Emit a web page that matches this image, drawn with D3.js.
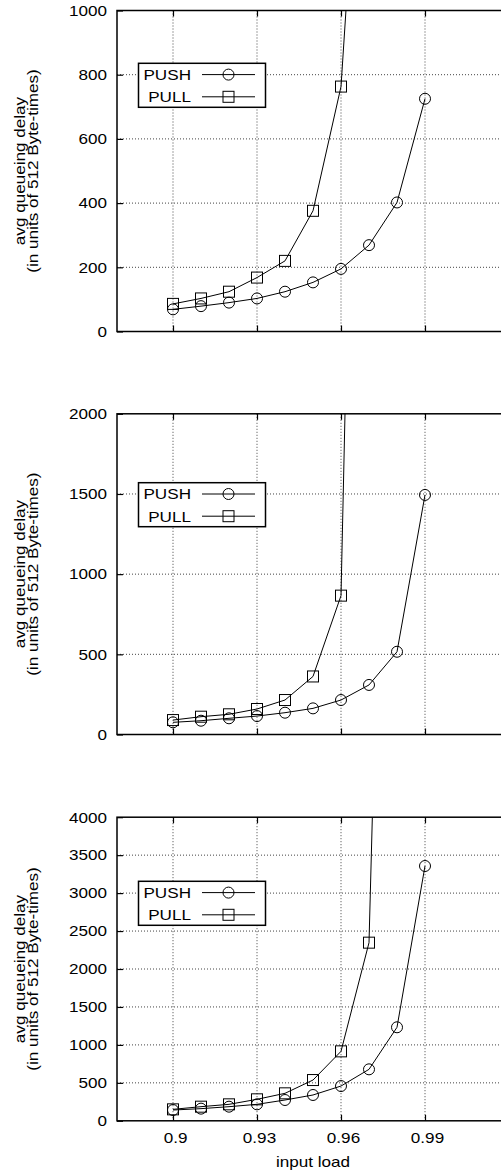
<!DOCTYPE html>
<html>
<head>
<meta charset="utf-8">
<script src="https://cdn.jsdelivr.net/npm/d3@7"></script>
<style>
  body { margin: 0; background: #fff; }
  text { font-family: "Liberation Sans", Arial, sans-serif; font-size: 15px; fill: #000; }
</style>
</head>
<body>
<div id="chart"></div>
<script>
// input load values (x)
var loads = [0.9, 0.91, 0.92, 0.93, 0.94, 0.95, 0.96, 0.97, 0.98, 0.99];
var xTicks = [0.9, 0.93, 0.96, 0.99];

// avg queueing delay
var pushTop = [69, 79, 90, 103, 124, 153, 195, 269, 402, 725];
var pullTop = [86, 103, 124, 168, 220, 376, 763, 2100];
var pushMid = [76, 86, 101, 115, 136, 163, 215, 309, 516, 1494];
var pullMid = [90, 111, 126, 159, 215, 362, 866, 8800];
var pushBot = [142, 160, 186, 217, 274, 340, 458, 678, 1232, 3357];
var pullBot = [151, 186, 217, 283, 362, 537, 915, 2347, 16200];

var yTicksTop = [0, 200, 400, 600, 800, 1000];
var yTicksMid = [0, 500, 1000, 1500, 2000];
var yTicksBot = [0, 500, 1000, 1500, 2000, 2500, 3000, 3500, 4000];

var seriesNames = ["PUSH", "PULL"];

var width = 501, height = 1176,
    left = 117, right = 509;
var stretchK = 1.14;

var panels = [
  { top: 10.5, bottom: 331.5, max: 1000, ticks: yTicksTop, push: pushTop, pull: pullTop, legend: 63.3, labels: false },
  { top: 413.8, bottom: 734.5, max: 2000, ticks: yTicksMid, push: pushMid, pull: pullMid, legend: 482.7, labels: false },
  { top: 817.2, bottom: 1120.8, max: 4000, ticks: yTicksBot, push: pushBot, pull: pullBot, legend: 881.3, labels: true }
];

var svg = d3.select('#chart').append('svg')
  .attr('width', width)
  .attr('height', height);

var x = d3.scaleLinear().domain([0.88, 1.02]).range([left, right]);

function stretch(sel) {
  sel.each(function() {
    var l = this.getComputedTextLength();
    d3.select(this).attr('textLength', l * stretchK).attr('lengthAdjust', 'spacingAndGlyphs');
  });
}

function marker(g, kind, cx, cy) {
  if (kind == 'circle') {
    g.append('circle').attr('cx', cx).attr('cy', cy).attr('r', 5.5)
      .attr('fill', 'none').attr('stroke', '#000').attr('stroke-width', 1);
  } else {
    g.append('rect').attr('x', cx - 5.5).attr('y', cy - 5.5)
      .attr('width', 11).attr('height', 11)
      .attr('fill', 'none').attr('stroke', '#000').attr('stroke-width', 1);
  }
}

panels.forEach(function(p, pi) {
  var y = d3.scaleLinear().domain([0, p.max]).range([p.bottom, p.top]);
  var g = svg.append('g');

  // grid
  g.selectAll('.gy').data(p.ticks.slice(1, -1)).enter().append('line')
    .attr('x1', left).attr('x2', right)
    .attr('y1', function(d) { return y(d); }).attr('y2', function(d) { return y(d); })
    .attr('stroke', '#444').attr('stroke-width', 1).attr('stroke-dasharray', '1,2');
  g.selectAll('.gx').data(xTicks).enter().append('line')
    .attr('x1', function(d) { return x(d); }).attr('x2', function(d) { return x(d); })
    .attr('y1', p.top).attr('y2', p.bottom)
    .attr('stroke', '#444').attr('stroke-width', 1).attr('stroke-dasharray', '1,2');

  // axes
  var yAxis = g.append('g')
    .attr('transform', 'translate(' + left + ',0)')
    .call(d3.axisLeft(y).tickValues(p.ticks).tickFormat(d3.format('d'))
      .tickSizeInner(-6).tickSizeOuter(0).tickPadding(10));
  yAxis.select('.domain').remove();
  yAxis.selectAll('text').style('font-size', '15px');
  stretch(yAxis.selectAll('text'));

  var xb = g.append('g')
    .attr('transform', 'translate(0,' + p.bottom + ')')
    .call(d3.axisBottom(x).tickValues(xTicks).tickSizeInner(-6).tickSizeOuter(0).tickPadding(12)
      .tickFormat(p.labels ? d3.format('') : function() { return ''; }));
  xb.select('.domain').remove();
  xb.selectAll('text').style('font-size', '15px').attr('dx', 2);
  if (p.labels) stretch(xb.selectAll('text'));

  var xt = g.append('g')
    .attr('transform', 'translate(0,' + p.top + ')')
    .call(d3.axisTop(x).tickValues(xTicks).tickSizeInner(-6).tickSizeOuter(0).tickFormat(''));
  xt.select('.domain').remove();

  g.selectAll('.tick line').attr('stroke', '#000').attr('stroke-width', 1.2);

  // frame
  g.append('rect')
    .attr('x', left).attr('y', p.top)
    .attr('width', right - left).attr('height', p.bottom - p.top)
    .attr('fill', 'none').attr('stroke', '#000').attr('stroke-width', 1.5);

  // clip
  svg.append('clipPath').attr('id', 'clip' + pi)
    .append('rect').attr('x', left).attr('y', p.top)
    .attr('width', right - left).attr('height', p.bottom - p.top);

  var plot = g.append('g').attr('clip-path', 'url(#clip' + pi + ')');
  var line = d3.line()
    .x(function(d, i) { return x(loads[i]); })
    .y(function(d) { return y(d); });

  [p.push, p.pull].forEach(function(vals, si) {
    plot.append('path').datum(vals)
      .attr('d', line)
      .attr('fill', 'none').attr('stroke', '#000').attr('stroke-width', 1);
    vals.forEach(function(v, i) {
      marker(plot, si == 0 ? 'circle' : 'square', x(loads[i]), y(v));
    });
  });

  // legend
  var lg = g.append('g');
  lg.append('rect')
    .attr('x', 138.5).attr('y', p.legend)
    .attr('width', 127).attr('height', 44)
    .attr('fill', '#fff').attr('stroke', '#000').attr('stroke-width', 1.5);
  seriesNames.forEach(function(name, si) {
    var ry = p.legend + 11.3 + si * 22.2;
    var t = lg.append('text')
      .attr('x', 191).attr('y', ry).attr('dy', '0.36em')
      .attr('text-anchor', 'end')
      .text(name);
    stretch(t);
    lg.append('line')
      .attr('x1', 202).attr('x2', 255).attr('y1', ry).attr('y2', ry)
      .attr('stroke', '#000').attr('stroke-width', 1);
    marker(lg, si == 0 ? 'circle' : 'square', 228.5, ry);
  });

  // y label
  var cy = (p.top + p.bottom) / 2;
  var l1 = g.append('text')
    .attr('transform', 'translate(24.5,' + cy + ') rotate(-90)')
    .attr('text-anchor', 'middle')
    .text('avg queueing delay');
  var l2 = g.append('text')
    .attr('transform', 'translate(38,' + cy + ') rotate(-90)')
    .attr('text-anchor', 'middle')
    .text('(in units of 512 Byte-times)');
  stretch(l1);
  stretch(l2);
});

var xl = svg.append('text')
  .attr('x', (left + right) / 2).attr('y', 1167)
  .attr('text-anchor', 'middle')
  .text('input load');
stretch(xl);
</script>
</body>
</html>
